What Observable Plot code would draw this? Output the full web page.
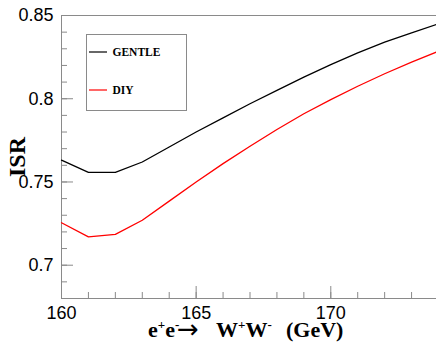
<!DOCTYPE html>
<html><head><meta charset="utf-8">
<script src="https://cdn.jsdelivr.net/npm/d3@7"></script>
<script src="https://cdn.jsdelivr.net/npm/@observablehq/plot@0.6"></script>
<style>
body{margin:0;background:#fff;overflow:hidden}
#chart{position:relative;width:436px;height:343px}
</style>
</head><body><div id="chart"></div>
<script>
const energies = [160,161,162,163,164,165,166,167,168,169,170,171,172,173,174];
const gentle = [0.7631,0.7558,0.7558,0.7620,0.7710,0.7800,0.7885,0.7970,0.8050,0.8130,0.8205,0.8275,0.8340,0.8395,0.8450];
const diy = [0.7255,0.7170,0.7185,0.7270,0.7385,0.7500,0.7610,0.7715,0.7815,0.7910,0.7995,0.8075,0.8150,0.8220,0.8285];
const seriesNames = ["GENTLE","DIY"];
const seriesColors = ["#000000","#ff0000"];
const xMajorTicks = [160,165,170];
const xMinorTicks = [160,161,162,163,164,165,166,167,168,169,170,171,172,173,174];
const yMajorTicks = [0.7,0.75,0.8,0.85];
const yMinorTicks = [0.68,0.69,0.70,0.71,0.72,0.73,0.74,0.75,0.76,0.77,0.78,0.79,0.80,0.81,0.82,0.83,0.84,0.85];
const yTitle = "ISR";

const rows = energies.flatMap((e,i)=>[{e, v:gentle[i], s:seriesNames[0]},{e, v:diy[i], s:seriesNames[1]}]);
const gray = "#8a8a8a";
const W = 436, H = 343, mL = 61, mR = -2, mT = 15, mB = 45;
const frameW = W - mL - mR, frameH = H - mT - mB;

const plot = Plot.plot({
  width: W, height: H,
  marginLeft: mL, marginRight: mR, marginTop: mT, marginBottom: mB,
  style: {fontFamily: "'Liberation Sans', Arial, sans-serif", fontSize: "18px", background: "white", color: "black", overflow: "hidden"},
  x: {domain: [160,174]},
  y: {domain: [0.68,0.85]},
  color: {domain: seriesNames, range: seriesColors},
  marks: [
    Plot.frame({stroke: gray}),
    Plot.tickX(xMinorTicks, {x: d => d, insetTop: frameH - 6, stroke: gray}),
    Plot.tickX(xMajorTicks, {x: d => d, insetTop: frameH - 12, stroke: gray}),
    Plot.axisX(xMajorTicks, {tickSize: 0, tickPadding: 8, label: null, fontSize: 18, fill: "black"}),
    Plot.tickY(yMinorTicks, {y: d => d, insetRight: frameW - 6, stroke: gray}),
    Plot.tickY(yMajorTicks, {y: d => d, insetRight: frameW - 12, stroke: gray}),
    Plot.axisY(yMajorTicks, {tickSize: 0, tickPadding: 8, label: null, tickFormat: d => String(d), fontSize: 18, fill: "black"}),
    Plot.line(rows, {x: "e", y: "v", stroke: "s", strokeWidth: 1.3, z: "s"})
  ]
});
document.getElementById("chart").appendChild(plot);

const svg = d3.select(plot);
const serif = "'Liberation Serif', 'Times New Roman', serif";
// y title
svg.append("text")
  .attr("transform", "translate(25,157) rotate(-90)")
  .attr("text-anchor", "middle")
  .style("font", `bold 24px ${serif}`)
  .attr("fill", "black")
  .text(yTitle);
// x title: e+e- -> W+W- (GeV)
function supText(x, parts) {
  const t = svg.append("text").attr("x", x).attr("y", 337).attr("text-anchor", "start")
    .style("font", `bold 22px ${serif}`).attr("fill", "black");
  let up = false;
  parts.forEach(([s, sup]) => {
    const ts = t.append("tspan").text(s);
    if (sup) { ts.style("font-size", "13px"); if (!up) { ts.attr("dy", -8); up = true; } }
    else if (up) { ts.attr("dy", 8); up = false; }
  });
}
supText(148, [["e",0],["+",1],["e",0],["-",1]]);
svg.append("text").attr("x", 177).attr("y", 338).attr("text-anchor", "start")
  .style("font", "26px 'DejaVu Sans', sans-serif").attr("fill", "black").text("\u2192");
supText(216, [["W",0],["+",1],["W",0],["-",1]]);
supText(286, [["(GeV)",0]]);
// legend
const lg = svg.append("g");
lg.append("rect").attr("x", 86.5).attr("y", 34.5).attr("width", 100).attr("height", 76)
  .attr("fill", "white").attr("stroke", gray).attr("stroke-width", 1);
const legendY = [52, 90];
seriesNames.forEach((n,i) => {
  lg.append("line").attr("x1", 89).attr("x2", 107).attr("y1", legendY[i]).attr("y2", legendY[i])
    .attr("stroke", seriesColors[i]).attr("stroke-width", 1.2);
  lg.append("text").attr("x", 112.5).attr("y", legendY[i] + 4)
    .attr("text-anchor", "start")
    .style("font", `bold 11.5px ${serif}`)
    .attr("fill", "black").text(n);
});
</script>
</body></html>
